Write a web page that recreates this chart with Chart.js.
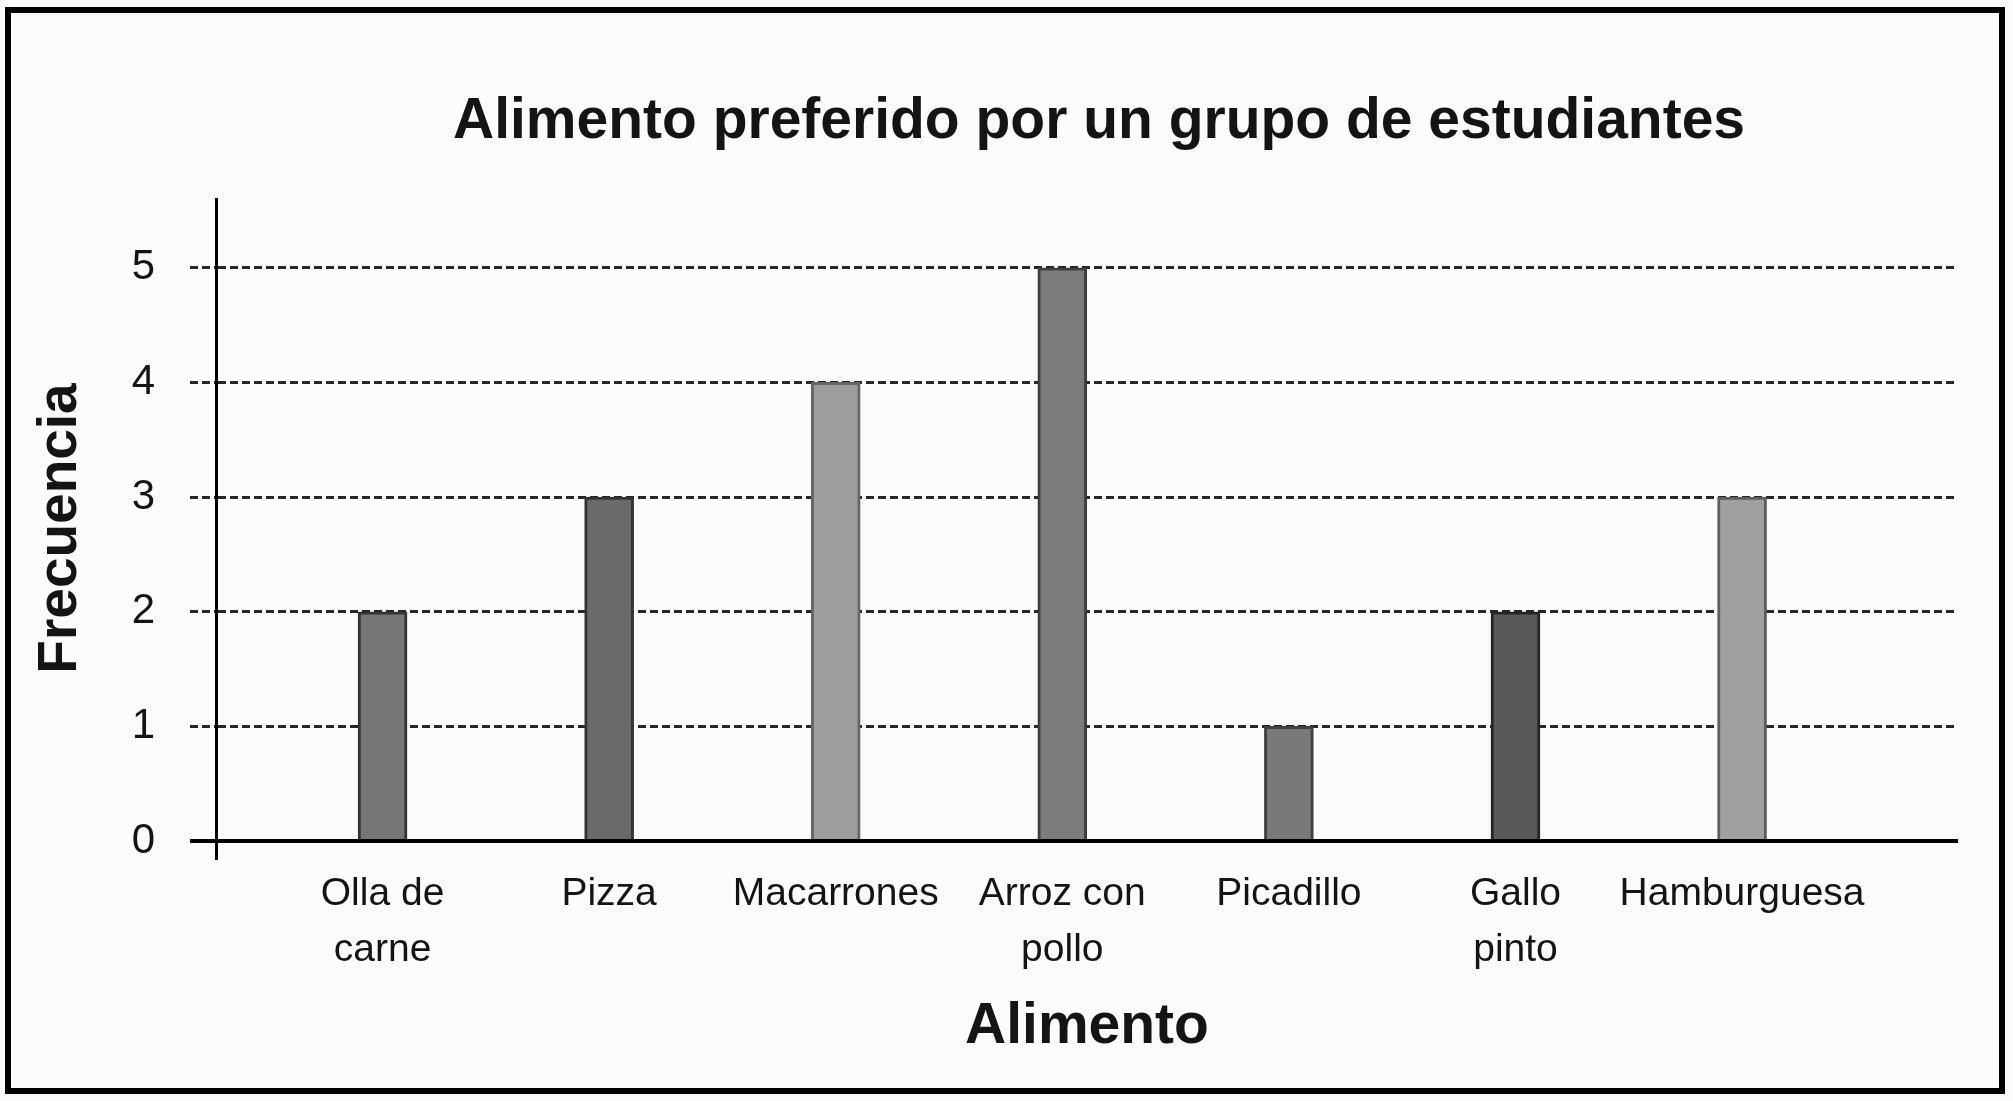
<!DOCTYPE html>
<html>
<head>
<meta charset="utf-8">
<title>Alimento preferido</title>
<script src="https://cdn.jsdelivr.net/npm/chart.js@4.4.1/dist/chart.umd.min.js"></script>
<style>
  html, body { margin: 0; padding: 0; background: #fbfbfb; }
  #wrap { position: relative; width: 2013px; height: 1101px; }
  #frame { position: absolute; left: 5px; top: 7px; right: 8px; bottom: 7px; border: 6px solid #000; pointer-events: none; }
</style>
</head>
<body>
<div id="wrap">
  <canvas id="foodChart" width="2013" height="1101"></canvas>
  <div id="frame"></div>
</div>
<script>
// chart data
const chartTitle = "Alimento preferido por un grupo de estudiantes";
const xTitle = "Alimento";
const yTitle = "Frecuencia";
const foods = [["Olla de", "carne"], "Pizza", "Macarrones", ["Arroz con", "pollo"], "Picadillo", ["Gallo", "pinto"], "Hamburguesa"];
const frequencies = [2, 3, 4, 5, 1, 2, 3];
const yTicks = [0, 1, 2, 3, 4, 5];

const barColors   = ["#767676", "#6a6a6a", "#9d9d9d", "#7c7c7c", "#797979", "#595959", "#a0a0a0"];
const barBorders  = ["#333333", "#333333", "#666666", "#3e3e3e", "#404040", "#262626", "#5e5e5e"];

const labelFont = '"Liberation Sans", Arial, sans-serif';
const boldFont = '"Liberation Sans", Arial, sans-serif';
const ink = "#141414";

const isZero = (ctx) => ctx.tick && ctx.tick.value === 0;

// draws the title centred over the plot area instead of the whole canvas
const plotTitle = {
  id: "plotTitle",
  afterDraw(chart) {
    const { ctx, chartArea } = chart;
    ctx.save();
    ctx.font = "bold 57px " + boldFont;
    ctx.fillStyle = ink;
    ctx.textAlign = "center";
    ctx.textBaseline = "middle";
    ctx.fillText(chartTitle, (chartArea.left + chartArea.right) / 2 + 12, 122);
    ctx.restore();
  }
};

const ctx = document.getElementById("foodChart").getContext("2d");

new Chart(ctx, {
  type: "bar",
  data: {
    datasets: [
      {
        label: yTitle,
        data: frequencies.map((v, i) => ({ x: i, y: v })),
        backgroundColor: barColors,
        borderColor: barBorders,
        borderWidth: 3,
        barThickness: 49
      }
    ]
  },
  plugins: [plotTitle],
  options: {
    responsive: false,
    animation: false,
    layout: { padding: { left: 10, right: 55, top: 199, bottom: 20 } },
    plugins: {
      legend: { display: false },
      tooltip: { enabled: false },
      title: { display: false }
    },
    scales: {
      x: {
        type: "linear",
        min: -0.735,
        max: 6.953,
        offset: false,
        grid: { display: false, drawTicks: false },
        border: { display: false },
        afterBuildTicks: (scale) => {
          scale.ticks = foods.map((_, i) => ({ value: i }));
        },
        afterFit: (scale) => { scale.height = 223; },
        ticks: {
          autoSkip: false,
          maxRotation: 0,
          padding: 8,
          color: ink,
          font: { family: labelFont, size: 39, lineHeight: 1.44 },
          callback: (value) => foods[value]
        },
        title: {
          display: true,
          text: xTitle,
          color: ink,
          font: { family: boldFont, size: 57, weight: "bold" },
          padding: { top: 0, bottom: 20 }
        }
      },
      y: {
        min: -0.148,
        max: 5.6,
        afterBuildTicks: (scale) => {
          scale.ticks = yTicks.map((v) => ({ value: v }));
        },
        afterFit: (scale) => { scale.width = 206; },
        grid: {
          color: (c) => isZero(c) ? "#000" : "#262626",
          lineWidth: (c) => isZero(c) ? 4 : 3,
          tickLength: 26,
          tickColor: (c) => isZero(c) ? "#000" : "#262626",
          tickWidth: (c) => isZero(c) ? 4 : 3,
          tickBorderDash: (c) => isZero(c) ? [] : [8, 4]
        },
        border: {
          display: true,
          color: "#000",
          width: 3,
          dash: (c) => isZero(c) ? [] : [8, 4]
        },
        ticks: {
          padding: 35,
          color: ink,
          font: { family: labelFont, size: 42 }
        },
        title: {
          display: true,
          text: yTitle,
          color: ink,
          font: { family: boldFont, size: 55, weight: "bold" },
          padding: { top: 18, bottom: 0 }
        }
      }
    }
  }
});
</script>
</body>
</html>
